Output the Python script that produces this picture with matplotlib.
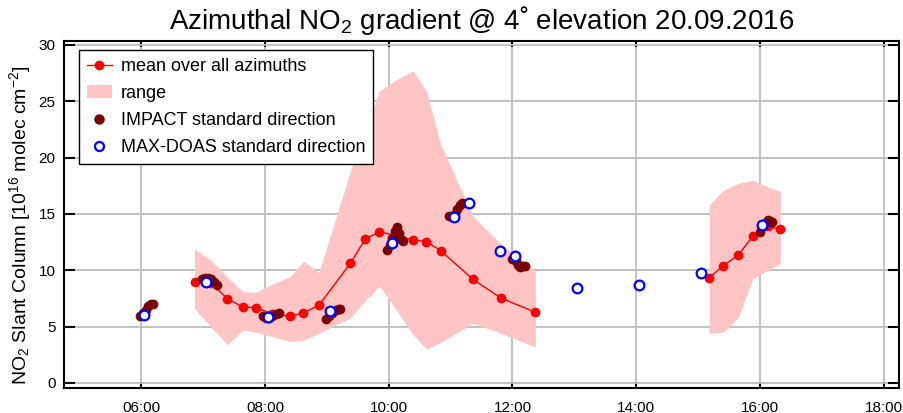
import matplotlib
matplotlib.use("Agg")
import matplotlib.pyplot as plt
from matplotlib.lines import Line2D
from matplotlib.patches import Patch

plt.rcParams['font.family'] = ['Liberation Sans', 'DejaVu Sans']
plt.rcParams['mathtext.default'] = 'regular'

# --- data (time in decimal hours UTC, NO2 SCD in 1e16 molec cm-2) ---
mean_t_am = [6.86, 7.12, 7.39, 7.64, 7.86, 8.12, 8.40, 8.62, 8.87, 9.38, 9.62,
             9.85, 10.12, 10.39, 10.61, 10.84, 11.36, 11.82, 12.37]
mean_v_am = [8.99, 8.9, 7.48, 6.74, 6.68, 6.1, 5.92, 6.21, 6.89, 10.62, 12.78,
             13.40, 13.1, 12.69, 12.54, 11.74, 9.20, 7.51, 6.28]
range_hi_am = [11.9, 10.9, 9.4, 8.1, 8.05, 8.8, 9.4, 10.8, 9.8, 18.8, 22.5,
               25.9, 26.9, 27.7, 25.9, 21.2, 14.8, 12.3, 10.0]
range_lo_am = [6.6, 5.0, 3.4, 4.7, 4.5, 4.1, 3.7, 3.8, 4.4, 5.8, 7.3,
               8.6, 6.5, 4.3, 3.0, 3.6, 5.3, 4.4, 3.2]

mean_t_pm = [15.18, 15.41, 15.65, 15.89, 16.13, 16.33]
mean_v_pm = [9.35, 10.41, 11.36, 13.04, 13.9, 13.66]
range_hi_pm = [15.8, 17.1, 17.7, 18.0, 17.4, 17.0]
range_lo_pm = [4.4, 4.5, 5.8, 9.3, 10.0, 10.6]

impact_t = [5.98, 6.03, 6.07, 6.11, 6.16, 6.19,
            6.98, 7.03, 7.08, 7.13, 7.18, 7.22,
            7.97, 8.02, 8.07, 8.12, 8.17, 8.22,
            8.99, 9.04, 9.09, 9.14, 9.19, 9.22,
            9.98, 10.02, 10.06, 10.10, 10.13, 10.16, 10.20, 10.23,
            10.98, 11.03, 11.07, 11.11, 11.15, 11.18,
            12.00, 12.05, 12.09, 12.13, 12.17, 12.20,
            16.00, 16.05, 16.09, 16.13, 16.17, 16.20]
impact_v = [5.9, 6.2, 6.5, 6.8, 7.0, 7.0,
            9.2, 9.3, 9.3, 9.2, 9.0, 8.7,
            5.9, 5.8, 5.8, 5.9, 6.1, 6.2,
            5.7, 5.9, 6.2, 6.5, 6.6, 6.6,
            11.8, 12.2, 12.9, 13.5, 13.8, 13.3, 12.8, 12.6,
            14.8, 14.7, 15.0, 15.4, 15.8, 16.0,
            11.0, 10.8, 10.5, 10.3, 10.4, 10.4,
            13.4, 13.9, 14.2, 14.5, 14.4, 14.3]

maxdoas_t = [6.04, 7.05, 8.05, 9.05, 10.06, 11.06, 11.30, 11.80, 12.04,
             13.04, 14.05, 15.05, 16.04]
maxdoas_v = [6.03, 8.93, 5.83, 6.42, 12.4, 14.7, 16.0, 11.68, 11.27,
             8.4, 8.67, 9.76, 13.99]

xticks = [6, 8, 10, 12, 14, 16, 18]
xticklabels = ['06:00', '08:00', '10:00', '12:00', '14:00', '16:00', '18:00']
yticks = [0, 5, 10, 15, 20, 25, 30]

# --- figure ---
fig = plt.figure(figsize=(9.04, 4.13), dpi=100)
ax = fig.add_axes([0.0708, 0.0605, 0.9237, 0.8402])

pink = '#ffc4c4'
ax.fill_between(mean_t_am, range_lo_am, range_hi_am, color=pink, lw=0, zorder=2)
ax.fill_between(mean_t_pm, range_lo_pm, range_hi_pm, color=pink, lw=0, zorder=2)

ax.plot(mean_t_am, mean_v_am, '-o', color='red', ms=6, lw=1.0, zorder=3)
ax.plot(mean_t_pm, mean_v_pm, '-o', color='red', ms=6, lw=1.0, zorder=3)

ax.plot(impact_t, impact_v, 'o', color='#7a0000', ms=7, mew=0, zorder=4)
ax.plot(maxdoas_t, maxdoas_v, 'o', mfc='white', mec='blue', ms=7, mew=1.6,
        zorder=5)

ax.set_xlim(4.75, 18.25)
ax.set_ylim(-0.45, 30.35)
ax.set_xticks(xticks)
ax.set_xticklabels(xticklabels)
ax.set_yticks(yticks)

ax.grid(True, color='#bdbdbd', lw=1.3, zorder=0)
ax.set_axisbelow(True)
for s in ax.spines.values():
    s.set_linewidth(1.5)
ax.tick_params(axis='both', direction='in', labelsize=11, width=1.5,
               top=True, right=True, pad=9)
ax.tick_params(axis='x', length=4)
ax.tick_params(axis='y', length=8, pad=6)

ax.set_ylabel(r'NO$_2$ Slant Column [10$^{16}$ molec cm$^{-2}$]', fontsize=14,
              labelpad=4)
ax.yaxis.label.set_y(0.47)
ax.set_title(r'Azimuthal NO$_2$ gradient @ 4˚ elevation 20.09.2016',
             fontsize=20, pad=9)

handles = [
    Line2D([], [], color='red', marker='o', ms=6, lw=1.0),
    Patch(facecolor=pink, edgecolor='none'),
    Line2D([], [], color='#7a0000', marker='o', ms=6.5, lw=0),
    Line2D([], [], marker='o', mfc='white', mec='blue', ms=6.5, mew=1.6, lw=0),
]
labels = ['mean over all azimuths', 'range', 'IMPACT standard direction',
          'MAX-DOAS standard direction']
leg = ax.legend(handles, labels, loc='upper left', bbox_to_anchor=(0.018, 0.974),
                fontsize=13, frameon=True, fancybox=False, framealpha=1,
                edgecolor='black', handlelength=1.35, handletextpad=0.5,
                labelspacing=0.55, borderpad=0.45, borderaxespad=0)
leg.get_frame().set_linewidth(1.0)
leg.set_zorder(6)

fig.savefig('out.png', dpi=100)
